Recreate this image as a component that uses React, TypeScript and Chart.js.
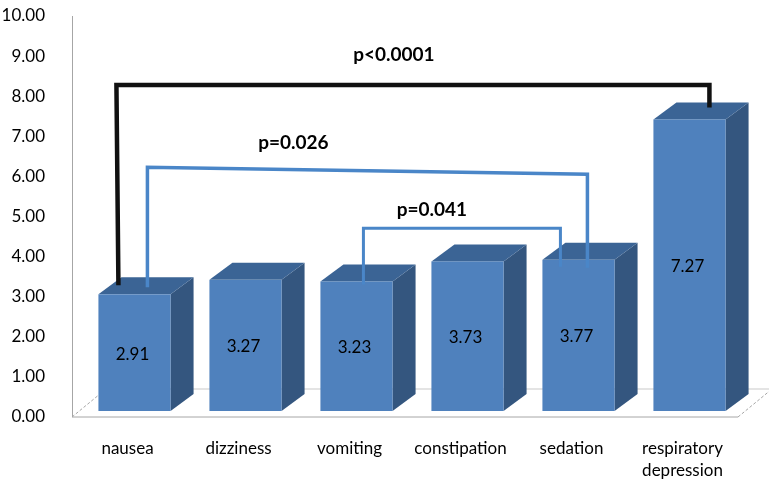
import { useEffect, useRef } from 'react';
import { Chart, registerables } from 'chart.js';

Chart.register(...registerables);

// Mean adverse-effect scores
const categories: string[][] = [
  ['nausea'],
  ['dizziness'],
  ['vomiting'],
  ['constipation'],
  ['sedation'],
  ['respiratory', 'depression'],
];
const meanScores = [2.91, 3.27, 3.23, 3.73, 3.77, 7.27];
const yMin = 0;
const yMax = 10;
const yStep = 1;

// Pairwise comparisons (bar indices, bracket height in score units, p label)
const compFrom = [0, 0, 2];
const compTo = [5, 4, 4];
const compLevel = [8.28, 6.23, 4.71];
const compLabel = ['p<0.0001', 'p=0.026', 'p=0.041'];

// Styling
const FONT = 'Lato';
const FRONT = '#4F81BD';
const SIDE = '#34567F';
const TOP = '#3B6495';
const DEPTH_X = 23;
const DEPTH_Y = -17;
const FACE_SHIFT_X = 7;
const FACE_SHIFT_Y = -6;
const bracketColor = ['#111111', '#4A86C8', '#4A86C8'];
const bracketWidth = [4.5, 3.5, 3];
const bracketTilt = [0, 7, 0];
const bracketLean = [-2, 0, 0];
const bracketFromDx = [20, 49, 43];
const bracketToDx = [56, 45, 18];
const bracketFromDy = [-9, -7, 3];
const bracketToDy = [-12, 8, 7];
const labelDx = [-20, -74, -30];
const labelDy = [-30, -24, -18];

const bars3d = {
  id: 'bars3d',
  beforeDatasetsDraw(chart: any) {
    const { ctx, chartArea } = chart;
    const { left, right, top, bottom } = chartArea;
    const fdx = 34;
    const fdy = -28;
    ctx.save();
    // floor
    ctx.lineWidth = 1;
    ctx.strokeStyle = '#C9C9C9';
    ctx.beginPath();
    ctx.moveTo(left + fdx, bottom + fdy);
    ctx.lineTo(right + fdx, bottom + fdy);
    ctx.stroke();
    ctx.strokeStyle = '#A6A6A6';
    ctx.beginPath();
    ctx.moveTo(left, bottom);
    ctx.lineTo(right, bottom);
    ctx.stroke();
    ctx.setLineDash([3, 2]);
    ctx.beginPath();
    ctx.moveTo(left, bottom);
    ctx.lineTo(left + fdx, bottom + fdy);
    ctx.moveTo(right, bottom);
    ctx.lineTo(right + fdx, bottom + fdy);
    ctx.stroke();
    ctx.setLineDash([]);
    // value axis line
    ctx.strokeStyle = '#A6A6A6';
    ctx.beginPath();
    ctx.moveTo(left + 0.5, top);
    ctx.lineTo(left + 0.5, bottom);
    ctx.stroke();
    ctx.restore();
  },
  afterDatasetsDraw(chart: any) {
    const { ctx } = chart;
    const meta = chart.getDatasetMeta(0);
    const faces: { L: number; R: number; T: number; B: number }[] = [];
    ctx.save();
    meta.data.forEach((el: any) => {
      const { x, y, base, width } = el.getProps(['x', 'y', 'base', 'width'], true);
      const L = x - width / 2 + FACE_SHIFT_X;
      const R = x + width / 2 + FACE_SHIFT_X;
      const T = y + FACE_SHIFT_Y;
      const B = base + FACE_SHIFT_Y;
      faces.push({ L, R, T, B });
      // side face
      ctx.fillStyle = SIDE;
      ctx.beginPath();
      ctx.moveTo(R, T);
      ctx.lineTo(R + DEPTH_X, T + DEPTH_Y);
      ctx.lineTo(R + DEPTH_X, B + DEPTH_Y);
      ctx.lineTo(R, B);
      ctx.closePath();
      ctx.fill();
      // top face
      ctx.fillStyle = TOP;
      ctx.beginPath();
      ctx.moveTo(L, T);
      ctx.lineTo(R, T);
      ctx.lineTo(R + DEPTH_X, T + DEPTH_Y);
      ctx.lineTo(L + DEPTH_X, T + DEPTH_Y);
      ctx.closePath();
      ctx.fill();
      // front face
      ctx.fillStyle = FRONT;
      ctx.fillRect(L, T, R - L, B - T);
    });

    // value labels
    ctx.fillStyle = '#000';
    ctx.font = `17px ${FONT}`;
    ctx.textAlign = 'center';
    ctx.textBaseline = 'middle';
    faces.forEach((f, i) => {
      ctx.fillText(meanScores[i].toFixed(2), (f.L + f.R) / 2 - 2, (f.T + f.B) / 2 + 1.5);
    });

    // comparison brackets
    const yScale = chart.scales.y;
    compFrom.forEach((from, k) => {
      const a = faces[from];
      const b = faces[compTo[k]];
      const yl = yScale.getPixelForValue(compLevel[k]);
      const x1 = a.L + bracketFromDx[k];
      const x2 = b.L + bracketToDx[k];
      ctx.strokeStyle = bracketColor[k];
      ctx.lineWidth = bracketWidth[k];
      ctx.lineJoin = 'miter';
      ctx.beginPath();
      ctx.moveTo(x1, a.T + bracketFromDy[k]);
      ctx.lineTo(x1 + bracketLean[k], yl);
      ctx.lineTo(x2, yl + bracketTilt[k]);
      ctx.lineTo(x2, b.T + bracketToDy[k]);
      ctx.stroke();
      ctx.fillStyle = '#000';
      ctx.font = `bold 19px ${FONT}`;
      ctx.fillText(compLabel[k], (x1 + x2) / 2 + labelDx[k], yl + labelDy[k]);
    });
    ctx.restore();
  },
};

export default function App() {
  const canvasRef = useRef<HTMLCanvasElement | null>(null);

  useEffect(() => {
    if (!canvasRef.current) return;
    const chart = new Chart(canvasRef.current, {
      type: 'bar',
      data: {
        labels: categories,
        datasets: [
          {
            data: meanScores,
            backgroundColor: 'rgba(0,0,0,0)',
            borderWidth: 0,
            barPercentage: 0.65,
            categoryPercentage: 1,
          },
        ],
      },
      options: {
        responsive: false,
        animation: false,
        layout: { padding: { top: 16, right: 31, left: 0, bottom: 0 } },
        plugins: { legend: { display: false }, tooltip: { enabled: false } },
        scales: {
          x: {
            grid: { display: false },
            border: { display: false },
            ticks: {
              color: '#000',
              font: { family: FONT, size: 17, lineHeight: 1.3 },
              padding: 12,
              maxRotation: 0,
              autoSkip: false,
            },
            afterFit: (s: any) => {
              s.height = 63;
              s.paddingLeft = 0;
              s.paddingRight = 0;
            },
          },
          y: {
            min: yMin,
            max: yMax,
            grid: { display: false },
            border: { display: false },
            ticks: {
              stepSize: yStep,
              color: '#000',
              font: { family: FONT, size: 17 },
              padding: 19,
              callback: (v: any) => Number(v).toFixed(2),
            },
            afterFit: (s: any) => {
              s.width = 72;
              s.paddingTop = 0;
              s.paddingBottom = 0;
            },
          },
        },
      },
      plugins: [bars3d],
    });
    return () => chart.destroy();
  }, []);

  return (
    <div style={{ position: 'fixed', left: 0, top: 0, width: 769, height: 480, background: '#fff' }}>
      <canvas ref={canvasRef} width={769} height={480} style={{ display: 'block' }} />
    </div>
  );
}
